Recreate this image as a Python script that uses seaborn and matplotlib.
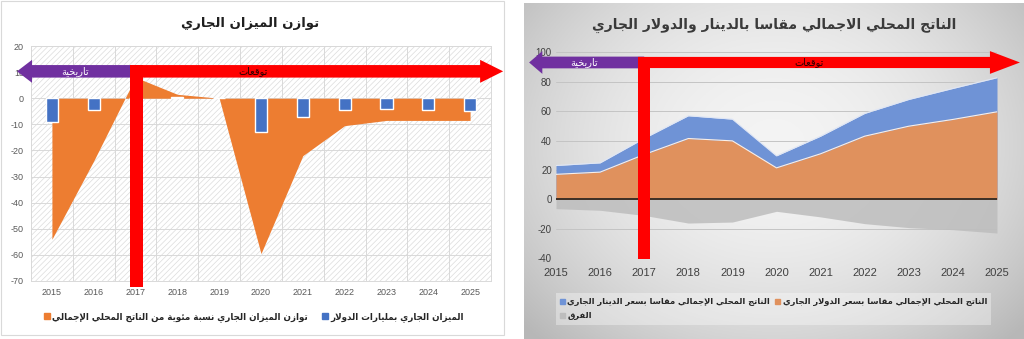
import numpy as np
import matplotlib
matplotlib.use("Agg")
import matplotlib.pyplot as plt
import seaborn as sns
from matplotlib.patches import FancyArrow, Rectangle, Patch

# ---------------------------------------------------------------- data
years = [2015, 2016, 2017, 2018, 2019, 2020, 2021, 2022, 2023, 2024, 2025]
forecast_start = 2017

# current account balance, % of GDP (area) and billions of USD (bars)
ca_pct_gdp = [-54, -24, 8, 1.5, 0, -59.5, -22, -10.5, -8.5, -8.5, -8.5]
ca_usd_bn = [-9.2, -4.4, 0, 0.6, 0, -13, -7.2, -4.5, -4.0, -4.5, -5.0]

# GDP measured at the current dinar rate, at the current dollar rate, and the gap
gdp_dinar = [23, 24.8, 41.5, 56.9, 54.6, 29.6, 43, 58.5, 68, 75.5, 82.8]
gdp_dollar = [17, 18.5, 30.5, 41.4, 39.8, 21.4, 31, 43, 49.8, 54.4, 59.6]
gdp_gap = [-6.4, -7.5, -11, -16.2, -15.5, -8.2, -12, -16.6, -19.3, -20.7, -23]

left_yticks = list(range(-70, 21, 10))
right_yticks = list(range(-40, 101, 20))

# ---------------------------------------------------------------- labels
T_LEFT = "توازن الميزان الجاري"
T_RIGHT = "الناتج المحلي الاجمالي مقاسا بالدينار والدولار الجاري"
T_HIST = "تاريخية"
T_FCST = "توقعات"
L_PCT = "توازن الميزان الجاري نسبة مئوية من الناتج المحلي الإجمالي"
L_USD = "الميزان الجاري بمليارات الدولار"
L_DINAR = "الناتج المحلي الإجمالي مقاسا بسعر الدينار الجاري"
L_DOLLAR = "الناتج المحلي الإجمالي مقاسا بسعر الدولار الجاري"
L_GAP = "الفرق"

# ---------------------------------------------------------------- arabic shaping
# matplotlib lays glyphs out left to right without joining, so letters are
# mapped to their contextual presentation forms and the run is reversed.
_DUAL = {'ئ': 0xFE89, 'ب': 0xFE8F, 'ت': 0xFE95, 'ث': 0xFE99, 'ج': 0xFE9D,
         'ح': 0xFEA1, 'خ': 0xFEA5, 'س': 0xFEB1, 'ش': 0xFEB5, 'ص': 0xFEB9,
         'ض': 0xFEBD, 'ط': 0xFEC1, 'ظ': 0xFEC5, 'ع': 0xFEC9, 'غ': 0xFECD,
         'ف': 0xFED1, 'ق': 0xFED5, 'ك': 0xFED9, 'ل': 0xFEDD, 'م': 0xFEE1,
         'ن': 0xFEE5, 'ه': 0xFEE9, 'ي': 0xFEF1}
_RIGHT = {'آ': 0xFE81, 'أ': 0xFE83, 'ؤ': 0xFE85, 'إ': 0xFE87, 'ا': 0xFE8D,
          'ة': 0xFE93, 'د': 0xFEA9, 'ذ': 0xFEAB, 'ر': 0xFEAD, 'ز': 0xFEAF,
          'و': 0xFEED, 'ى': 0xFEEF,
          'لآ': 0xFEF5, 'لأ': 0xFEF7, 'لإ': 0xFEF9, 'لا': 0xFEFB}
_FORMS = {k: (v, v + 1, v + 2, v + 3) for k, v in _DUAL.items()}
_FORMS.update({k: (v, v + 1, None, None) for k, v in _RIGHT.items()})
_FORMS['ء'] = (0xFE80, None, None, None)


def ar(text):
    toks, i = [], 0
    while i < len(text):
        pair = text[i:i + 2]
        if len(pair) == 2 and pair in _FORMS and pair[0] == 'ل':
            toks.append(pair)
            i += 2
        else:
            toks.append(text[i])
            i += 1
    out = []
    for k, t in enumerate(toks):
        f = _FORMS.get(t)
        if f is None:
            out.append(t)
            continue
        prev = _FORMS.get(toks[k - 1]) if k > 0 else None
        nxt = _FORMS.get(toks[k + 1]) if k + 1 < len(toks) else None
        jp = prev is not None and prev[2] is not None
        jn = f[2] is not None and nxt is not None
        if jp and jn:
            g = f[3]
        elif jp:
            g = f[1]
        elif jn:
            g = f[2]
        else:
            g = f[0]
        out.append(chr(g))
    return ''.join(reversed(out))


# ---------------------------------------------------------------- style
sns.set_theme(style="white")
plt.rcParams['font.family'] = ['DejaVu Sans']
plt.rcParams['hatch.linewidth'] = 0.5
plt.rcParams['hatch.color'] = '#dcdcdc'

ORANGE_L, BLUE_L = '#ed7d31', '#4472c4'
BLUE_R, ORANGE_R, GRAY_R = '#6f93d6', '#e0915d', '#bdbdbd'
RED, PURPLE = '#ff0000', '#7030a0'
W, H = 1024, 339

fig = plt.figure(figsize=(W / 100, H / 100), dpi=100)
fig.patch.set_facecolor('white')


def fx(px):
    return px / W


def fy(py):
    return (H - py) / H


# ================================================================ left chart
fig.add_artist(Rectangle((fx(0.5), fy(335)), fx(503), 334 / H, transform=fig.transFigure,
                         fill=False, edgecolor='#d9d9d9', lw=0.8))
axL = fig.add_axes([fx(31), fy(281), fx(491 - 31), (281 - 46) / H])
axL.set_facecolor('white')
axL.add_patch(Rectangle((0, 0), 1, 1, transform=axL.transAxes, facecolor='white',
                        edgecolor='#dcdcdc', hatch='//////', lw=0, zorder=0))

axL.fill_between(years, ca_pct_gdp, 0, color=ORANGE_L, lw=0, zorder=2)
sns.barplot(x=years, y=ca_usd_bn, native_scale=True, color=BLUE_L, saturation=1,
            width=0.29, errorbar=None, ax=axL, zorder=3)

axL.set_xlim(years[0] - 0.5, years[-1] + 0.5)
axL.set_ylim(left_yticks[0], left_yticks[-1])
axL.set_yticks(left_yticks)
axL.set_xticks(years)
axL.set_xticks([y - 0.5 for y in years] + [years[-1] + 0.5], minor=True)
axL.set_xticklabels([str(y) for y in years], family='Liberation Sans', fontsize=6.5,
                    color='#595959')
axL.set_yticklabels([str(v) for v in left_yticks], family='Liberation Sans',
                    fontsize=6.5, color='#595959')
axL.tick_params(axis='both', which='both', length=0, pad=5)
axL.grid(axis='y', which='major', color='#d9d9d9', lw=0.7, zorder=1)
axL.grid(axis='x', which='minor', color='#d9d9d9', lw=0.7, zorder=1)
axL.grid(axis='x', which='major', visible=False)
axL.set_axisbelow(True)
axL.set_xlabel('')
axL.set_ylabel('')
for s in axL.spines.values():
    s.set_color('#d9d9d9')
    s.set_linewidth(0.7)

# historical / forecast markers
yA = 10.3
axL.add_patch(FancyArrow(forecast_start, yA, (years[0] - 0.835) - forecast_start, 0,
                         width=4.8, head_width=8.8, head_length=0.36,
                         length_includes_head=True, color=PURPLE, lw=0,
                         clip_on=False, zorder=5))
axL.add_patch(Rectangle((forecast_start - 0.13, -72.4), 0.31, 72.4 + yA + 2.4,
                        color=RED, lw=0, clip_on=False, zorder=6))
axL.add_patch(FancyArrow(forecast_start - 0.13, yA, (years[-1] + 0.79) - (forecast_start - 0.13), 0,
                         width=4.8, head_width=8.8, head_length=0.55,
                         length_includes_head=True, color=RED, lw=0,
                         clip_on=False, zorder=6))
axL.text(years[0] + 0.56, yA, ar(T_HIST), color='white', fontsize=7, ha='center',
         va='center', zorder=7)
axL.text(2019.82, yA, ar(T_FCST), color='#2a0000', fontsize=7, ha='center',
         va='center', zorder=7)

fig.text(fx(250), fy(23), ar(T_LEFT), ha='center', va='center', fontsize=9.5,
         fontweight='bold', color='#1f1f1f')

fig.legend(handles=[Patch(color=ORANGE_L), Patch(color=BLUE_L)],
           labels=[ar(L_PCT), ar(L_USD)], loc='center',
           bbox_to_anchor=(fx(254), fy(317)), ncol=2, frameon=False,
           handlelength=0.65, handleheight=0.65, handletextpad=0.3,
           columnspacing=1.6, prop=dict(weight='bold', size=6.3))

# ================================================================ right chart
bg = fig.add_axes([fx(524), 0, fx(500), 336 / H], zorder=-10)
gy, gx = np.mgrid[0:1:220j, 0:1:330j]
r2 = ((gx - 0.5) / 0.62) ** 2 + ((gy - 0.58) / 0.75) ** 2
val = np.clip(0.955 - 0.2 * r2, 0.72, 1)
bg.imshow(np.dstack([val] * 3), extent=[0, 1, 0, 1], aspect='auto', origin='lower')
bg.axis('off')

axR = fig.add_axes([fx(556), fy(258), fx(997 - 556), (258 - 52.5) / H])
axR.set_facecolor('none')
axR.fill_between(years, gdp_dinar, 0, color=BLUE_R, lw=0, zorder=2)
axR.fill_between(years, gdp_dollar, 0, color=ORANGE_R, lw=0, zorder=3)
axR.fill_between(years, gdp_gap, 0, color=GRAY_R, alpha=0.85, lw=0, zorder=2)
sns.lineplot(x=years, y=gdp_dinar, color='#dfe6f5', lw=0.8, ax=axR, zorder=3)
sns.lineplot(x=years, y=gdp_dollar, color='#fbefe6', lw=0.8, ax=axR, zorder=3)
axR.axhline(0, color='#3d3026', lw=1.4, zorder=4)

axR.set_xlim(years[0], years[-1])
axR.set_ylim(right_yticks[0], right_yticks[-1])
axR.set_yticks(right_yticks)
axR.set_xticks(years)
axR.set_xticklabels([str(y) for y in years], family='Liberation Sans', fontsize=8,
                    color='#404040')
axR.set_yticklabels([str(v) for v in right_yticks], family='Liberation Sans',
                    fontsize=7, color='#404040')
axR.tick_params(axis='x', length=0, pad=7)
axR.tick_params(axis='y', length=0, pad=3)
axR.grid(axis='y', color='#c4c4c4', lw=0.7)
axR.grid(axis='x', visible=False)
axR.set_axisbelow(True)
axR.set_xlabel('')
axR.set_ylabel('')
for s in axR.spines.values():
    s.set_visible(False)

yB = 93.2
axR.add_patch(FancyArrow(forecast_start, yB, (years[0] - 0.61) - forecast_start, 0,
                         width=8.0, head_width=15.5, head_length=0.3,
                         length_includes_head=True, color=PURPLE, lw=0,
                         clip_on=False, zorder=5))
axR.add_patch(Rectangle((forecast_start - 0.14, -41), 0.27, 41 + yB + 3.8,
                        color=RED, lw=0, clip_on=False, zorder=6))
axR.add_patch(FancyArrow(forecast_start - 0.14, yB, (years[-1] + 0.52) - (forecast_start - 0.14), 0,
                         width=7.6, head_width=15.5, head_length=0.68,
                         length_includes_head=True, color=RED, lw=0,
                         clip_on=False, zorder=6))
axR.text(years[0] + 0.64, yB, ar(T_HIST), color='white', fontsize=7, ha='center',
         va='center', zorder=7)
axR.text(2020.74, yB, ar(T_FCST), color='#2a0000', fontsize=7, ha='center',
         va='center', zorder=7)

fig.text(fx(774), fy(25), ar(T_RIGHT), ha='center', va='center', fontsize=10,
         fontweight='bold', color='#3a3a3a')

fig.legend(handles=[Patch(color=BLUE_R), Patch(color=GRAY_R), Patch(color=ORANGE_R)],
           labels=[ar(L_DINAR), ar(L_GAP), ar(L_DOLLAR)], loc='center',
           bbox_to_anchor=(fx(773.5), fy(309)), ncol=2, frameon=True,
           facecolor='white', framealpha=0.35, edgecolor='none', fancybox=False,
           handlelength=0.6, handleheight=0.6, handletextpad=0.3,
           columnspacing=0.6, labelspacing=0.6, borderpad=0.5,
           prop=dict(weight='bold', size=6))

fig.savefig('out.png', dpi=100)
